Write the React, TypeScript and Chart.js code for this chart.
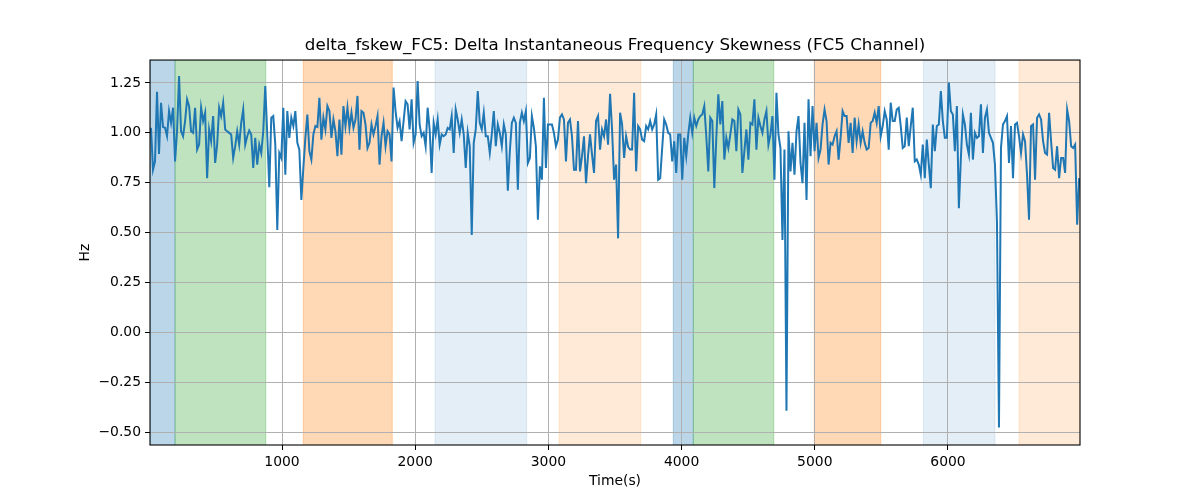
import React, { useEffect, useRef } from "react";
import { Chart, registerables } from "chart.js";

Chart.register(...registerables);

const TITLE = "delta_fskew_FC5: Delta Instantaneous Frequency Skewness (FC5 Channel)";
const X_LABEL = "Time(s)";
const Y_LABEL = "Hz";

// sample timing of the series (seconds)
const T0 = 16.5;
const DT = 15.05;

// series values, read left to right in segments
const seg1 = [1.025, 0.815, 0.857, 1.206, 0.894, 1.151, 1.029, 1.025, 0.983, 1.109, 1.05, 1.126, 0.857, 1.008, 1.285, 1.008, 0.983, 1.059, 1.168, 1.134, 1.008, 1.0, 1.126, 0.916, 0.941, 1.126, 1.059, 1.101, 0.773, 1.017, 0.958, 1.084, 0.849, 0.941, 1.126, 1.084, 1.151, 1.017, 1.008, 1.0, 0.992, 0.874, 0.933, 1.008, 0.941, 1.05, 1.117, 0.941, 0.983, 1.012, 0.992, 0.824, 0.975, 0.841, 0.941, 0.899, 1.008, 1.235];
const seg2 = [0.992, 0.727, 1.076, 1.084, 0.941, 0.513, 0.899, 0.874, 1.126, 0.79, 1.109, 0.975, 1.076, 1.034, 1.109, 0.95, 0.916, 0.664, 0.824, 0.975, 1.092, 0.908, 0.866, 0.992, 1.034, 1.029, 1.176, 0.966, 1.076, 1.017, 1.134, 1.109, 0.975, 1.067, 1.008, 0.883, 1.067, 0.891, 1.134, 1.034, 1.126, 1.025, 1.101, 1.025, 1.067, 1.185, 0.916, 1.109, 1.101, 1.042, 0.924, 0.95, 1.042, 0.992, 1.034, 1.084, 0.841, 0.983, 1.05, 0.933, 1.008];
const seg3 = [0.992, 0.857, 1.227, 1.109, 1.025, 1.059, 0.958, 1.059, 1.159, 1.143, 1.017, 1.168, 0.95, 0.992, 1.26, 1.042, 0.983, 1.0, 0.933, 1.126, 1.017, 0.799, 1.05, 0.992, 1.067, 0.941, 0.992, 0.983, 0.992, 1.025, 1.017, 1.084, 0.899, 1.117, 1.067, 1.0, 1.067, 0.992, 0.824, 1.0, 0.933, 0.488, 0.95, 1.017, 1.21, 1.05, 1.017, 1.101, 0.983, 0.983, 0.899, 0.992, 1.109, 0.933, 1.042, 1.0, 0.933, 1.042, 0.992, 0.71];
const seg4 = [0.908, 1.05, 1.076, 1.05, 0.715, 1.05, 1.101, 1.059, 1.109, 0.849, 0.874, 1.084, 1.025, 0.933, 0.564, 0.832, 0.765, 1.176, 0.824, 1.042, 1.042, 1.042, 1.0, 0.933, 0.966, 1.076, 1.092, 1.067, 0.857, 1.05, 1.067, 0.983, 0.815, 0.815, 1.059, 0.807, 0.883, 0.983, 0.748, 0.883, 0.992, 0.891, 0.799, 1.059, 1.084, 0.916, 1.017, 0.983, 1.067, 0.941, 1.196, 1.017, 0.765, 0.841, 0.471, 1.101, 1.042, 0.874, 0.983, 0.93];
const seg5 = [0.916, 0.916, 1.201, 0.807, 1.034, 1.017, 0.966, 0.958, 1.034, 1.017, 1.059, 1.017, 1.042, 1.092, 0.765, 0.773, 0.924, 1.067, 1.042, 1.0, 0.992, 0.857, 0.958, 0.799, 0.992, 0.992, 0.765, 0.975, 0.883, 0.992, 1.076, 1.0, 1.076, 1.034, 1.067, 1.084, 1.092, 1.134, 0.983, 0.807, 1.076, 1.059, 0.723, 0.975, 1.193, 1.042, 1.159, 0.866, 0.975, 0.924, 0.992, 1.067, 1.059, 0.908, 1.117, 1.092, 0.799, 0.908, 1.017, 0.866];
const seg6 = [1.05, 1.042, 1.168, 0.916, 1.076, 1.034, 1.0, 1.067, 1.109, 0.941, 0.992, 1.084, 0.765, 1.201, 0.992, 0.924, 0.463, 0.916, -0.393, 1.008, 0.807, 0.95, 0.79, 1.008, 1.084, 0.849, 0.748, 1.05, 0.664, 1.168, 0.883, 1.134, 0.908, 1.05, 0.874, 0.916, 1.042, 1.117, 1.059, 0.841, 0.95, 0.941, 0.983, 1.008, 0.866, 0.975, 1.109, 1.084, 1.084, 0.95, 1.05, 0.899, 1.076, 0.958, 1.042, 0.95, 1.008, 0.95, 0.916, 0.924];
const seg7 = [1.05, 1.059, 1.101, 1.05, 1.134, 0.983, 1.034, 1.109, 1.067, 0.916, 1.151, 1.059, 1.059, 1.117, 1.126, 1.034, 0.924, 0.933, 1.076, 0.933, 1.034, 1.126, 0.857, 0.866, 0.841, 0.79, 0.941, 0.773, 0.966, 0.841, 0.723, 1.042, 0.908, 1.034, 1.042, 1.21, 1.059, 0.975, 0.975, 1.252, 1.109, 1.092, 0.908, 1.134, 0.622, 0.874, 1.092, 1.042, 0.941, 0.891, 1.101, 0.866, 1.0, 0.975, 0.983, 1.143, 0.899, 1.076, 1.117, 1.0];
const seg8 = [0.975, 0.95, 0.841, 0.555, -0.477, 0.924, 1.042, 1.059, 1.084, 0.849, 1.034, 0.773, 1.042, 1.05, 0.983, 0.899, 0.992, 0.958, 0.79, 0.564, 1.034, 1.042, 0.765, 1.076, 1.092, 1.067, 0.958, 0.899, 0.891, 1.101, 0.958, 0.824, 0.815, 0.933, 0.773, 0.874, 0.874, 0.799, 1.117, 1.059, 0.933, 0.924, 0.941, 0.539, 0.773];

// shaded intervals
const spanStarts = [9, 197, 1160, 2149, 3080, 3938, 4088, 4996, 5815, 6533];
const spanEnds = [197, 878, 1828, 2837, 3693, 4088, 4692, 5495, 6353, 6991];
const spanColors = [
  "rgba(31,119,180,0.3)",
  "rgba(44,160,44,0.3)",
  "rgba(255,127,14,0.3)",
  "rgba(31,119,180,0.12)",
  "rgba(255,127,14,0.16)",
  "rgba(31,119,180,0.3)",
  "rgba(44,160,44,0.3)",
  "rgba(255,127,14,0.3)",
  "rgba(31,119,180,0.12)",
  "rgba(255,127,14,0.16)",
];

// axes
const X_MIN = 9;
const X_MAX = 6991;
const Y_MIN = -0.565;
const Y_MAX = 1.365;
const xTickValues = [1000, 2000, 3000, 4000, 5000, 6000];
const xTickLabels = ["1000", "2000", "3000", "4000", "5000", "6000"];
const yTickValues = [-0.5, -0.25, 0, 0.25, 0.5, 0.75, 1.0, 1.25];
const yTickLabels = ["\u22120.50", "\u22120.25", "0.00", "0.25", "0.50", "0.75", "1.00", "1.25"];

const FONT = "'DejaVu Sans', sans-serif";

const spanPlugin = {
  id: "spans",
  beforeDraw(chart: any) {
    const { ctx, chartArea, scales } = chart;
    const xs = scales.x;
    ctx.save();
    ctx.beginPath();
    ctx.rect(chartArea.left, chartArea.top, chartArea.right - chartArea.left, chartArea.bottom - chartArea.top);
    ctx.clip();
    spanStarts.forEach((s, i) => {
      const x0 = xs.getPixelForValue(s);
      const x1 = xs.getPixelForValue(spanEnds[i]);
      ctx.fillStyle = spanColors[i];
      ctx.fillRect(x0, chartArea.top, x1 - x0, chartArea.bottom - chartArea.top);
      ctx.strokeStyle = spanColors[i];
      ctx.lineWidth = 1;
      ctx.beginPath();
      ctx.moveTo(x0, chartArea.top);
      ctx.lineTo(x0, chartArea.bottom);
      ctx.moveTo(x1, chartArea.top);
      ctx.lineTo(x1, chartArea.bottom);
      ctx.stroke();
    });
    ctx.restore();
  },
};

const framePlugin = {
  id: "frame",
  afterDraw(chart: any) {
    const { ctx, chartArea } = chart;
    ctx.save();
    ctx.strokeStyle = "#000";
    ctx.lineWidth = 1.1;
    ctx.strokeRect(chartArea.left, chartArea.top, chartArea.right - chartArea.left, chartArea.bottom - chartArea.top);
    ctx.restore();
  },
};

export default function App() {
  const ref = useRef<HTMLCanvasElement>(null);

  useEffect(() => {
    if (!ref.current) return;
    const values = [...seg1, ...seg2, ...seg3, ...seg4, ...seg5, ...seg6, ...seg7, ...seg8];
    const points = values.map((v, i) => ({ x: T0 + i * DT, y: v }));
    const tickFont = { family: FONT, size: 13.9 };
    const chart = new Chart(ref.current, {
      type: "line",
      data: {
        datasets: [
          {
            data: points,
            borderColor: "#1f77b4",
            borderWidth: 2,
            pointRadius: 0,
            tension: 0,
            fill: false,
          },
        ],
      },
      options: {
        animation: false,
        responsive: false,
        parsing: true,
        layout: { padding: { left: 0, right: 120, top: 0, bottom: 0 } },
        plugins: {
          legend: { display: false },
          tooltip: { enabled: false },
          title: {
            display: true,
            text: TITLE,
            fullSize: false,
            color: "#000",
            font: { family: FONT, size: 16.7, weight: "normal" },
            padding: { top: 36, bottom: 4 },
          },
        },
        scales: {
          x: {
            type: "linear",
            min: X_MIN,
            max: X_MAX,
            afterBuildTicks: (s: any) => {
              s.ticks = xTickValues.map((v) => ({ value: v }));
            },
            afterFit: (s: any) => {
              s.height = 55;
            },
            grid: { color: "#b0b0b0", lineWidth: 1, tickLength: 5, tickColor: "#000", drawTicks: true },
            border: { display: false },
            ticks: {
              padding: 4,
              color: "#000",
              font: tickFont,
              maxRotation: 0,
              autoSkip: false,
              callback: (_v: any, i: number) => xTickLabels[i],
            },
            title: {
              display: true,
              text: X_LABEL,
              color: "#000",
              font: tickFont,
              padding: { top: 0, bottom: 10 },
            },
          },
          y: {
            type: "linear",
            min: Y_MIN,
            max: Y_MAX,
            afterBuildTicks: (s: any) => {
              s.ticks = yTickValues.map((v) => ({ value: v }));
            },
            afterFit: (s: any) => {
              s.width = 150;
            },
            grid: { color: "#b0b0b0", lineWidth: 1, tickLength: 5, tickColor: "#000", drawTicks: true },
            border: { display: false },
            ticks: {
              padding: 4,
              color: "#000",
              font: tickFont,
              autoSkip: false,
              callback: (_v: any, i: number) => yTickLabels[i],
            },
            title: {
              display: true,
              text: Y_LABEL,
              color: "#000",
              font: tickFont,
              padding: { top: 77, bottom: 0 },
            },
          },
        },
      },
      plugins: [spanPlugin, framePlugin],
    } as any);
    return () => chart.destroy();
  }, []);

  return (
    <div style={{ position: "absolute", left: 0, top: 0, width: 1200, height: 500, background: "#fff" }}>
      <canvas ref={ref} width={1200} height={500} style={{ display: "block", width: 1200, height: 500 }} />
    </div>
  );
}
